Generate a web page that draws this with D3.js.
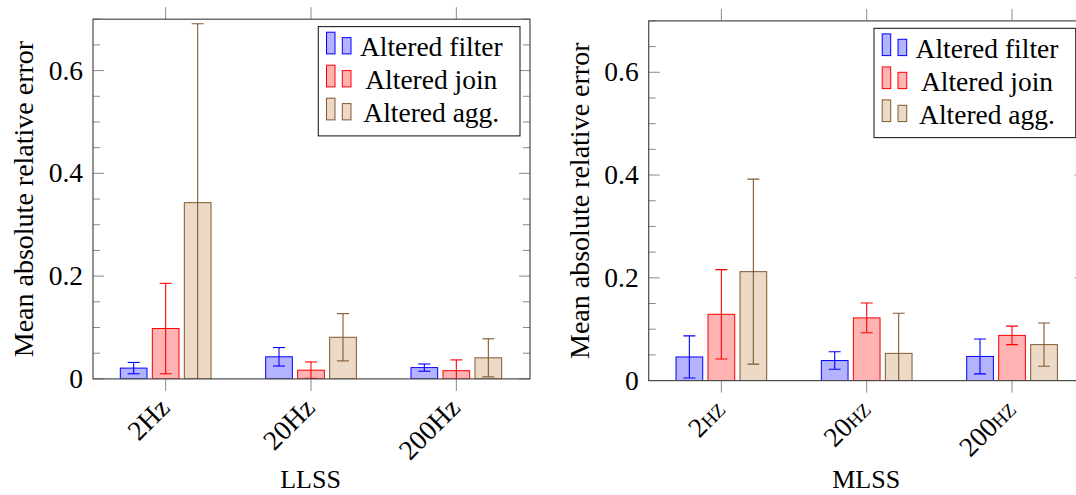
<!DOCTYPE html>
<html>
<head>
<meta charset="utf-8">
<script src="https://cdn.jsdelivr.net/npm/d3@7"></script>
<style>
    body { margin: 0; background: #fff; }
</style>
</head>
<body>
<svg id="chart"></svg>
<script>
(function () {
    'use strict';

    // data
    var categories = ['2Hz', '20Hz', '200Hz'];
    var tickLabelsLLSS = ['2Hz', '20Hz', '200Hz'];
    var tickLabelsMLSS = ['2hz', '20hz', '200hz'];   // typeset in small caps
    var seriesNames = ['Altered filter', 'Altered join', 'Altered agg.'];
    var yTickValues = [0, 0.2, 0.4, 0.6];

    var llssFilter = [0.021, 0.043, 0.022];
    var llssJoin = [0.098, 0.017, 0.016];
    var llssAgg = [0.343, 0.081, 0.041];
    var llssFilterErr = [0.011, 0.018, 0.007];
    var llssJoinErr = [0.088, 0.016, 0.021];
    var llssAggErr = [0.348, 0.046, 0.037];

    var mlssFilter = [0.046, 0.039, 0.047];
    var mlssJoin = [0.129, 0.122, 0.088];
    var mlssAgg = [0.212, 0.053, 0.070];
    var mlssFilterErr = [0.041, 0.017, 0.034];
    var mlssJoinErr = [0.087, 0.029, 0.018];
    var mlssAggErr = [0.180, 0.078, 0.042];

    var seriesStyle = [
        { fill: '#b3b3ff', stroke: '#0000ff' },
        { fill: '#ffb3b3', stroke: '#ff0000' },
        { fill: '#ecdac6', stroke: '#80582f' }
    ];

    var width = 1076;
    var height = 495;
    var plotW = 437;
    var plotH = 359.7;
    var barW = 26.7;
    var fontSize = 27.5;
    var serif = "'Liberation Serif', 'DejaVu Serif', 'Times New Roman', serif";

    var svg = d3.select('#chart')
        .attr('width', width)
        .attr('height', height)
        .attr('font-family', serif);

    svg.append('rect')
        .attr('width', width)
        .attr('height', height)
        .attr('fill', '#fff');

    var panels = [
        {
            id: 'llss', title: 'LLSS', left: 93, top: 19.2,
            ticks: tickLabelsLLSS, smallCaps: false,
            means: [llssFilter, llssJoin, llssAgg],
            errs: [llssFilterErr, llssJoinErr, llssAggErr]
        },
        {
            id: 'mlss', title: 'MLSS', left: 648.7, top: 20.9,
            ticks: tickLabelsMLSS, smallCaps: true,
            means: [mlssFilter, mlssJoin, mlssAgg],
            errs: [mlssFilterErr, mlssJoinErr, mlssAggErr]
        }
    ];

    panels.forEach(drawPanel);

    function label(sel, size) {
        return sel.attr('font-family', serif)
            .attr('font-size', size)
            .attr('fill', '#000');
    }

    function drawPanel(p) {
        var g = svg.append('g')
            .attr('transform', 'translate(' + p.left + ',' + p.top + ')');

        var x = d3.scaleBand()
            .domain(categories)
            .range([0, plotW - 1])
            .padding(0);
        var xs = d3.scalePoint()
            .domain(seriesNames)
            .range([-32, 32]);
        var y = d3.scaleLinear()
            .domain([0, 0.7])
            .range([plotH, 0]);

        var cx = function (c) { return x(c) + x.bandwidth() / 2; };

        g.append('clipPath')
            .attr('id', 'clip-' + p.id)
            .append('rect')
            .attr('width', plotW)
            .attr('height', plotH);

        // y ticks, inward on both sides
        var minor = y.ticks(14).filter(function (t) {
            return yTickValues.indexOf(+t.toFixed(2)) < 0;
        });
        var tickG = g.append('g').attr('stroke', '#8a8a8a').attr('stroke-width', 1);
        [[yTickValues, 11], [minor, 7]].forEach(function (set) {
            set[0].forEach(function (t) {
                tickG.append('line')
                    .attr('x1', 0).attr('x2', set[1])
                    .attr('y1', y(t)).attr('y2', y(t));
                tickG.append('line')
                    .attr('x1', plotW).attr('x2', plotW - set[1])
                    .attr('y1', y(t)).attr('y2', y(t));
            });
        });

        // x ticks, outward top and bottom
        categories.forEach(function (c) {
            tickG.append('line')
                .attr('x1', cx(c)).attr('x2', cx(c))
                .attr('y1', 0).attr('y2', -12);
            tickG.append('line')
                .attr('x1', cx(c)).attr('x2', cx(c))
                .attr('y1', plotH).attr('y2', plotH + 12);
        });

        // bars and error bars
        var plot = g.append('g').attr('clip-path', 'url(#clip-' + p.id + ')');
        seriesNames.forEach(function (s, si) {
            var st = seriesStyle[si];
            var sg = plot.append('g');
            sg.selectAll('rect')
                .data(categories)
                .enter()
                .append('rect')
                .attr('x', function (c) { return cx(c) + xs(s) - barW / 2; })
                .attr('y', function (c, i) { return y(p.means[si][i]); })
                .attr('width', barW)
                .attr('height', function (c, i) { return plotH - y(p.means[si][i]); })
                .attr('fill', st.fill)
                .attr('stroke', st.stroke)
                .attr('stroke-width', 1);

            var eg = sg.selectAll('g.err')
                .data(categories)
                .enter()
                .append('g')
                .attr('class', 'err')
                .attr('stroke', st.stroke)
                .attr('stroke-width', 1.1);
            eg.append('line')
                .attr('x1', function (c) { return cx(c) + xs(s); })
                .attr('x2', function (c) { return cx(c) + xs(s); })
                .attr('y1', function (c, i) { return y(p.means[si][i] + p.errs[si][i]); })
                .attr('y2', function (c, i) { return y(p.means[si][i] - p.errs[si][i]); });
            [1, -1].forEach(function (sign) {
                eg.append('line')
                    .attr('x1', function (c) { return cx(c) + xs(s) - 6; })
                    .attr('x2', function (c) { return cx(c) + xs(s) + 6; })
                    .attr('y1', function (c, i) { return y(p.means[si][i] + sign * p.errs[si][i]); })
                    .attr('y2', function (c, i) { return y(p.means[si][i] + sign * p.errs[si][i]); });
            });
        });

        // frame
        g.append('rect')
            .attr('width', plotW)
            .attr('height', plotH)
            .attr('fill', 'none')
            .attr('stroke', '#4a4a4a')
            .attr('stroke-width', 1.2);

        // y tick labels
        g.selectAll('text.ytick')
            .data(yTickValues)
            .enter()
            .append('text')
            .attr('class', 'ytick')
            .call(label, fontSize)
            .attr('x', -10)
            .attr('y', function (d) { return y(d); })
            .attr('dy', '0.33em')
            .attr('text-anchor', 'end')
            .text(function (d) { return d === 0 ? '0' : d3.format('.1f')(d); });

        // x tick labels, rotated
        g.selectAll('text.xtick')
            .data(categories)
            .enter()
            .append('text')
            .attr('class', 'xtick')
            .call(label, fontSize)
            .attr('transform', function (c) {
                return 'translate(' + (cx(c) - 1) + ',' + (plotH + 24) + ') rotate(-45)';
            })
            .attr('dy', '0.33em')
            .attr('text-anchor', 'end')
            .attr('font-variant', p.smallCaps ? 'small-caps' : 'normal')
            .text(function (c, i) { return p.ticks[i]; });

        // axis titles
        g.append('text')
            .call(label, 28)
            .attr('transform', 'translate(-60,' + (plotH / 2) + ') rotate(-90)')
            .attr('text-anchor', 'middle')
            .text('Mean absolute relative error');

        g.append('text')
            .call(label, 26)
            .attr('x', plotW / 2 - 1)
            .attr('y', 488 - p.top)
            .attr('text-anchor', 'middle')
            .text(p.title);

        // legend
        var legW = 201.7;
        var legH = 109.3;
        var lg = g.append('g')
            .attr('transform', 'translate(' + (plotW - 10 - legW) + ',7.4)');
        lg.append('rect')
            .attr('width', legW)
            .attr('height', legH)
            .attr('fill', '#fff')
            .attr('stroke', '#222')
            .attr('stroke-width', 1.1);
        seriesNames.forEach(function (s, si) {
            var st = seriesStyle[si];
            var base = 27.3 + si * 33;
            lg.append('rect')
                .attr('x', 8.2).attr('y', base - 21.7)
                .attr('width', 8.5).attr('height', 21.7)
                .attr('fill', st.fill).attr('stroke', st.stroke);
            lg.append('rect')
                .attr('x', 24).attr('y', base - 16.3)
                .attr('width', 8.7).attr('height', 16.3)
                .attr('fill', st.fill).attr('stroke', st.stroke);
            lg.append('text')
                .call(label, fontSize)
                .attr('x', 113)
                .attr('y', base + 2)
                .attr('text-anchor', 'middle')
                .text(s);
        });
    }
})();
</script>
</body>
</html>
